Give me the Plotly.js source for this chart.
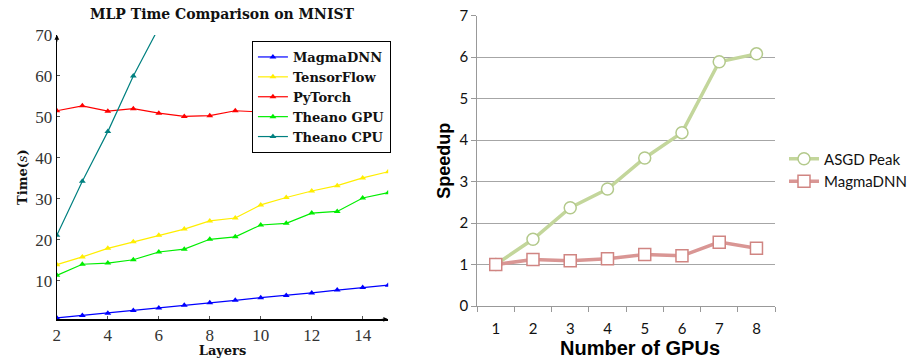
<!DOCTYPE html>
<html>
<head>
<meta charset="utf-8">
<script src="https://cdn.plot.ly/plotly-3.0.1.min.js"></script>
<style>html,body{margin:0;padding:0;background:#fff;}#chart{width:912px;height:358px;}</style>
</head>
<body>
<div id="chart"></div>
<script>
// Left chart: MLP time comparison on MNIST
const layers = [2,3,4,5,6,7,8,9,10,11,12,13,14,15];
const magmaTime = [0.9,1.5,2.05,2.7,3.35,4.0,4.6,5.2,5.85,6.4,7.0,7.7,8.3,8.9];
const tensorflowTime = [13.9,15.8,17.9,19.5,21.1,22.6,24.6,25.3,28.5,30.3,31.9,33.2,35.1,36.6];
const pytorchTime = [51.5,52.7,51.4,52.0,50.9,50.1,50.3,51.5,51.2,51.0,51.3,51.2,51.4,51.6];
const theanoGpuTime = [11.3,14.0,14.3,15.1,17.0,17.7,20.1,20.7,23.6,24.0,26.5,26.9,30.2,31.5];
const theanoCpuLayers = [2,3,4,5,6];
const theanoCpuTime = [21.1,34.3,46.4,60.0,71.8];

// Right chart: speedup vs number of GPUs
const gpus = ['1','2','3','4','5','6','7','8'];
const asgdSpeedup = [1.0,1.61,2.37,2.82,3.57,4.18,5.89,6.08];
const magmaSpeedup = [1.0,1.12,1.09,1.14,1.24,1.21,1.54,1.39];

const serif = 'Liberation Serif, DejaVu Serif, serif';
const serifBold = 'DejaVu Serif, Liberation Serif, serif';
const sans = 'Lato, Open Sans, sans-serif';
const heavy = 'Liberation Sans, Arial, sans-serif';

function leftTrace(x, y, name, color) {
  return {x: x, y: y, name: name, type: 'scatter', mode: 'lines+markers',
    xaxis: 'x', yaxis: 'y', legend: 'legend',
    line: {color: color, width: 1.2},
    marker: {symbol: 'triangle-up', size: 6, color: color}, cliponaxis: true};
}
const traces = [
  leftTrace(layers, magmaTime, 'MagmaDNN', '#0000ff'),
  leftTrace(layers, tensorflowTime, 'TensorFlow', '#ffee00'),
  leftTrace(layers, pytorchTime, 'PyTorch', '#ff0000'),
  leftTrace(layers, theanoGpuTime, 'Theano GPU', '#00ee00'),
  leftTrace(theanoCpuLayers, theanoCpuTime, 'Theano CPU', '#008080'),
  {x: gpus, y: asgdSpeedup, name: 'ASGD Peak', type: 'scatter', mode: 'lines+markers',
    xaxis: 'x2', yaxis: 'y2', legend: 'legend2',
    line: {color: '#c3d69b', width: 3.5},
    marker: {symbol: 'circle', size: 12, color: '#ffffff', line: {color: '#b3c98b', width: 1.5}}},
  {x: gpus, y: magmaSpeedup, name: 'MagmaDNN', type: 'scatter', mode: 'lines+markers',
    xaxis: 'x2', yaxis: 'y2', legend: 'legend2',
    line: {color: '#d99694', width: 3.5},
    marker: {symbol: 'square', size: 12, color: '#ffffff', line: {color: '#d08582', width: 1.5}}}
];

const layout = {
  width: 912, height: 358,
  margin: {l: 0, r: 0, t: 0, b: 0},
  paper_bgcolor: '#ffffff', plot_bgcolor: 'rgba(0,0,0,0)',
  showlegend: true,
  xaxis: {domain: [58/912, 396/912], range: [2, 15], anchor: 'y',
    tickvals: [2,4,6,8,10,12,14], showgrid: false, zeroline: false,
    showline: true, linecolor: '#000', linewidth: 1.2, ticks: 'inside', ticklen: 3, tickcolor: '#555',
    tickfont: {family: serif, size: 17, color: '#333'},
    title: {text: '<b>Layers</b>', font: {family: serifBold, size: 13, color: '#111'}, standoff: 2}},
  yaxis: {domain: [(358-319.3)/358, (358-35)/358], range: [0.56, 70], anchor: 'x',
    tickvals: [10,20,30,40,50,60,70], showgrid: false, zeroline: false,
    showline: true, linecolor: '#000', linewidth: 1.2, ticks: 'inside', ticklen: 3, tickcolor: '#555',
    tickfont: {family: serif, size: 17, color: '#333'},
    title: {text: '<b>Time(</b><i>s</i><b>)</b>', font: {family: serifBold, size: 13, color: '#111'}, standoff: 4}},
  xaxis2: {domain: [486.7/912, 790.7/912], anchor: 'y2', type: 'category',
    range: [-0.5, 7.5], tickson: 'boundaries', ticks: 'outside', ticklen: 5, tickcolor: '#999',
    ticklabelstandoff: 9,
    showgrid: false, zeroline: false, showline: true, linecolor: '#999', linewidth: 1,
    tickfont: {family: sans, size: 15, color: '#111'}},
  yaxis2: {domain: [(358-306)/358, (358-15.7)/358], anchor: 'x2', range: [0, 7],
    dtick: 1, ticks: 'outside', ticklen: 5, tickcolor: '#999',
    showgrid: true, gridcolor: '#a6a6a6', gridwidth: 1, zeroline: false,
    showline: true, linecolor: '#999', linewidth: 1,
    tickfont: {family: sans, size: 15, color: '#111'},
    title: {text: '<b>Speedup</b>', font: {family: heavy, size: 18, color: '#000'}, standoff: 4}},
  legend: {x: 257/912, y: (358-41)/358, xanchor: 'left', yanchor: 'top',
    bgcolor: '#ffffff', bordercolor: '#000', borderwidth: 1,
    font: {family: serifBold, size: 13, color: '#111', weight: 'bold'},
    tracegroupgap: 0, itemwidth: 30},
  legend2: {x: 800/912, y: (358-170)/358, xanchor: 'left', yanchor: 'middle',
    bgcolor: 'rgba(0,0,0,0)', borderwidth: 0,
    font: {family: sans, size: 15, color: '#111'},
    tracegroupgap: 6, itemwidth: 30},
  annotations: [
    {text: '<b>MLP Time Comparison on MNIST</b>', xref: 'paper', yref: 'paper',
      x: 227/912, y: (358-14)/358, xanchor: 'center', yanchor: 'middle', showarrow: false,
      font: {family: serifBold, size: 14, color: '#111'}},
    {text: '<b>Number of GPUs</b>', xref: 'paper', yref: 'paper',
      x: 653/912, y: (358-348)/358, xanchor: 'center', yanchor: 'middle', showarrow: false,
      font: {family: heavy, size: 20, color: '#000'}},
    {text: '', xref: 'x domain', yref: 'y domain', x: 1, y: 0, ax: -8, ay: 0,
      showarrow: true, arrowhead: 2, arrowsize: 0.8, arrowwidth: 1.2, arrowcolor: '#000'},
    {text: '', xref: 'x domain', yref: 'y domain', x: 0, y: 1, ax: 0, ay: 8,
      showarrow: true, arrowhead: 2, arrowsize: 0.8, arrowwidth: 1.2, arrowcolor: '#000'}
  ]
};

Plotly.newPlot('chart', traces, layout, {displayModeBar: false, staticPlot: true});
</script>
</body>
</html>
